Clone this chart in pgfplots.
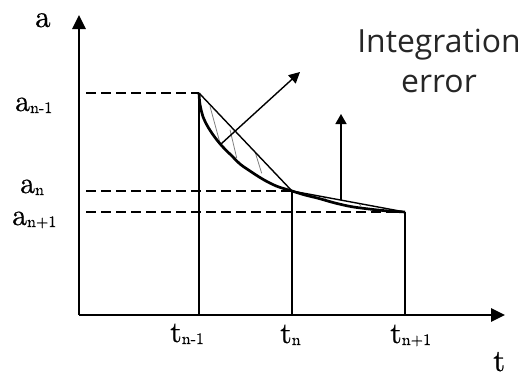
\documentclass[border=0pt]{standalone}
\usepackage{fontspec}
\usepackage{pgfplots}
\pgfplotsset{compat=1.18}
\usetikzlibrary{arrows.meta}
\newfontfamily\osans{Open Sans}
\newfontfamily\labfont{lmroman10-regular.otf}[FakeBold=0.6]
\newcommand\lab[2]{{\labfont\fontsize{30}{32}\selectfont #1\raisebox{-2bp}{\fontsize{16}{17}\selectfont #2}}}
\begin{document}
\begin{tikzpicture}
\begin{axis}[
  scale only axis, width=426bp, height=300bp,
  xmin=0, xmax=426, ymin=0, ymax=300,
  axis lines=left,
  axis line style={line width=2.8bp, -{Triangle[length=14bp,width=13bp]}},
  xtick=\empty, ytick=\empty,
  enlargelimits=false, clip=false,
]
\path (axis cs:-79,-62) rectangle (axis cs:444,315);
% dashed guide lines
\addplot[black, mark=none, line width=1.5bp, dash pattern=on 10bp off 5bp] coordinates {(7,222) (120,222)};
\addplot[black, mark=none, line width=1.5bp, dash pattern=on 10bp off 5bp] coordinates {(7,124) (213,124)};
\addplot[black, mark=none, line width=1.5bp, dash pattern=on 10bp off 5bp] coordinates {(7,103) (326,103)};
% vertical lines
\addplot[black, mark=none, line width=2.6bp] coordinates {(120,0) (120,222)};
\addplot[black, mark=none, line width=1.5bp] coordinates {(213,0) (213,124)};
\addplot[black, mark=none, line width=2.6bp] coordinates {(326,0) (326,103)};
% hatching
\addplot[gray, mark=none, line width=0.8bp] coordinates {(131,208.7) (141,172)};
\addplot[gray, mark=none, line width=0.8bp] coordinates {(151,185.3) (157.7,157)};
\addplot[gray, mark=none, line width=0.8bp] coordinates {(176,163.3) (182.7,141.7)};
\addplot[gray, mark=none, line width=0.7bp] coordinates {(245,118) (247,115.5)};
\addplot[gray, mark=none, line width=0.7bp] coordinates {(280,111.5) (282,108.5)};
% chords
\addplot[black, mark=none, line width=1.4bp] coordinates {(120,222) (213,124)};
\addplot[black, mark=none, line width=1.4bp] coordinates {(213,124) (326,103)};
% curve
\addplot[black, mark=none, line width=2.7bp, smooth, tension=0.55] coordinates {
(120,222) (121,210.5) (124.3,197.5) (129.3,187.5) (136,177.5) (142.7,169.3)
(149.3,162.5) (152,160) (161,151) (171,144) (184.3,135.5) (197.7,128.8) (213,124)
(226,120) (239.3,116.7) (256,112) (272.7,108.3) (290,106) (306,104.3) (326,103)};
% arrows
\addplot[black, mark=none, line width=1.4bp, -{Triangle[length=11bp,width=11bp]}] coordinates {(142,171) (221,243)};
\addplot[black, mark=none, line width=1.4bp, -{Triangle[length=10bp,width=11bp]}] coordinates {(262,115) (262,201)};
% labels
\node[anchor=base west, inner sep=0] at (axis cs:-44,288) {\labfont\fontsize{31}{32}\selectfont a};
\node[anchor=base west, inner sep=0] at (axis cs:414,-56) {\labfont\fontsize{31}{32}\selectfont t};
\node[anchor=base west, inner sep=0] at (axis cs:-64,204) {\lab{a}{n-1}};
\node[anchor=base west, inner sep=0] at (axis cs:-59,122) {\lab{a}{n}};
\node[anchor=base west, inner sep=0] at (axis cs:-67,90) {\lab{a}{n+1}};
\node[anchor=base west, inner sep=0] at (axis cs:91,-27) {\lab{t}{n-1}};
\node[anchor=base west, inner sep=0] at (axis cs:201,-28) {\lab{t}{n}};
\node[anchor=base west, inner sep=0] at (axis cs:311,-28) {\lab{t}{n+1}};
\node[anchor=base, inner sep=0, text=black!85] at (axis cs:360,263) {\osans\fontsize{32}{38}\selectfont Integration};
\node[anchor=base, inner sep=0, text=black!85] at (axis cs:360,223) {\osans\fontsize{32}{38}\selectfont error};
\end{axis}
\end{tikzpicture}
\end{document}
